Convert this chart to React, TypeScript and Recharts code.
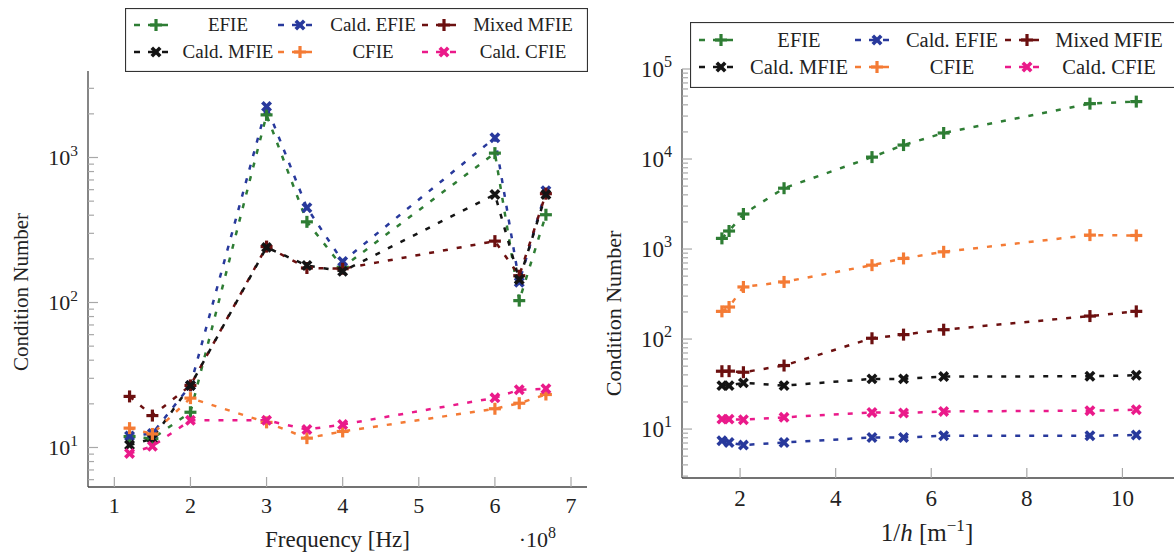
import React from 'react'
import { LineChart, Line, XAxis, YAxis } from 'recharts'

// left panel: condition number vs frequency (x in units of 1e8 Hz)
const freq = [1.2, 1.5, 2, 3, 3.53, 4, 6, 6.32, 6.67]
const efieF = [11.9, 11.5, 17.5, 1968, 360, 175, 1072, 103, 403]
const caldEfieF = [12.0, 12.5, 26.8, 2249, 450, 192, 1368, 138, 591]
const mixedMfieF = [22.5, 16.6, 26.8, 243, 173, 171, 265, 153, 563]
const caldMfieF = [10.4, 11.5, 26.8, 240, 180, 164, 556, 144, 556]
const cfieF = [13.6, 12.4, 21.9, 14.9, 11.6, 12.9, 18.5, 20.2, 23.2]
const caldCfieF = [9.1, 10.2, 15.4, 15.4, 13.3, 14.4, 22.0, 25.0, 25.4]

// right panel: condition number vs 1/h
const invH = [1.62, 1.77, 2.07, 2.92, 4.76, 5.42, 6.26, 9.32, 10.29]
const efieH = [1313, 1585, 2449, 4740, 10500, 14290, 19450, 41230, 43430]
const caldEfieH = [7.41, 7.1, 6.64, 7.1, 8.06, 8.06, 8.42, 8.42, 8.58]
const mixedMfieH = [43.9, 44, 42.8, 50.8, 102, 112, 127, 180, 203]
const caldMfieH = [30.4, 30.4, 32.6, 30.4, 36.1, 36.1, 38.3, 38.6, 39.6]
const cfieH = [203, 227, 379, 431, 662, 786, 931, 1428, 1415]
const caldCfieH = [12.9, 12.9, 12.7, 13.5, 15.3, 15.1, 15.7, 16.0, 16.4]

const freqTicks = [1, 2, 3, 4, 5, 6, 7]
const invHTicks = [2, 4, 6, 8, 10]
const leftMajors = [10, 100, 1000]
const rightMajors = [10, 100, 1000, 10000, 100000]

const FONT = "'Liberation Serif', 'DejaVu Serif', Tinos, Times, serif"
const TICK = '#a8a8a8'
const AXIS = '#444'
const TXT = { fontFamily: FONT }

type Mk = 'plus' | 'cross'
const series: { key: string; name: string; color: string; mark: Mk }[] = [
  { key: 'efie', name: 'EFIE', color: '#2e7d34', mark: 'plus' },
  { key: 'caldEfie', name: 'Cald. EFIE', color: '#28399c', mark: 'cross' },
  { key: 'mixedMfie', name: 'Mixed MFIE', color: '#6c1010', mark: 'plus' },
  { key: 'caldMfie', name: 'Cald. MFIE', color: '#141414', mark: 'cross' },
  { key: 'cfie', name: 'CFIE', color: '#f47b35', mark: 'plus' },
  { key: 'caldCfie', name: 'Cald. CFIE', color: '#ea1a8a', mark: 'cross' },
]

const freqRows = freq.map((x, i) => ({
  x,
  efie: efieF[i],
  caldEfie: caldEfieF[i],
  mixedMfie: mixedMfieF[i],
  caldMfie: caldMfieF[i],
  cfie: cfieF[i],
  caldCfie: caldCfieF[i],
}))

const invHRows = invH.map((x, i) => ({
  x,
  efie: efieH[i],
  caldEfie: caldEfieH[i],
  mixedMfie: mixedMfieH[i],
  caldMfie: caldMfieH[i],
  cfie: cfieH[i],
  caldCfie: caldCfieH[i],
}))

// minor log ticks (2..9 x 10^k) between the majors, clipped to the domain
function withMinors(majors: number[], lo: number, hi: number) {
  const out: number[] = []
  const first = majors[0] / 10
  for (const base of [first, ...majors]) {
    for (let m = 1; m < 10; m++) {
      const v = m * base
      if (v >= lo && v <= hi) out.push(v)
    }
  }
  return out
}

const isMajor = (v: number) => Math.abs(Math.log10(v) - Math.round(Math.log10(v))) < 1e-6

function Mark({ cx, cy, color, mark }: { cx: number; cy: number; color: string; mark: Mk }) {
  if (mark === 'plus') {
    const r = 6
    return (
      <g>
        <line x1={cx - r} x2={cx + r} y1={cy} y2={cy} stroke={color} strokeWidth={3.2} />
        <line x1={cx} x2={cx} y1={cy - r} y2={cy + r} stroke={color} strokeWidth={3.2} />
      </g>
    )
  }
  const r = 4.2
  return (
    <g>
      <line x1={cx - r} y1={cy - r} x2={cx + r} y2={cy + r} stroke={color} strokeWidth={3.6} />
      <line x1={cx - r} y1={cy + r} x2={cx + r} y2={cy - r} stroke={color} strokeWidth={3.6} />
    </g>
  )
}

const dotFor = (color: string, mark: Mk) => (p: any) => {
  const { cx, cy, index } = p
  if (cx == null || cy == null) return <g key={index} />
  return (
    <g key={index}>
      <Mark cx={cx} cy={cy} color={color} mark={mark} />
    </g>
  )
}

const Pow = ({ x, y, exp, fs, anchor }: { x: number; y: number; exp: number | string; fs: number; anchor: string }) => (
  <text x={x} y={y} textAnchor={anchor as any} style={TXT} fontSize={fs} fill="#222">
    10
    <tspan dy={-fs * 0.42} fontSize={fs * 0.7}>
      {exp}
    </tspan>
  </text>
)

const yTickLeft = (fs: number) => (p: any) => {
  const { x, y, payload } = p
  const v = payload.value
  const maj = isMajor(v)
  return (
    <g>
      <line x1={x} x2={x + (maj ? 10 : 6)} y1={y} y2={y} stroke={TICK} strokeWidth={1.2} />
      {maj && <Pow x={x - 10} y={y + fs * 0.33} exp={Math.round(Math.log10(v))} fs={fs} anchor="end" />}
    </g>
  )
}

const yTickRight = (p: any) => {
  const { x, y, payload } = p
  const maj = isMajor(payload.value)
  return <line x1={x} x2={x - (maj ? 10 : 6)} y1={y} y2={y} stroke={TICK} strokeWidth={1.2} />
}

const xTickBottom = (fs: number, dy: number) => (p: any) => {
  const { x, y, payload } = p
  return (
    <g>
      <line x1={x} x2={x} y1={y} y2={y - 10} stroke={TICK} strokeWidth={1.2} />
      <text x={x} y={y + dy} textAnchor="middle" style={TXT} fontSize={fs} fill="#222">
        {payload.value}
      </text>
    </g>
  )
}

const xTickTop = (p: any) => {
  const { x, y } = p
  return <line x1={x} x2={x} y1={y} y2={y + 10} stroke={TICK} strokeWidth={1.2} />
}

function LegendBox(props: {
  left: number
  top: number
  width: number
  height: number
  fs: number
  markX: number[]
  textX: number[]
  rowY: number[]
}) {
  const { left, top, width, height, fs, markX, textX, rowY } = props
  return (
    <svg style={{ position: 'absolute', left, top }} width={width + 1} height={height + 1}>
      <rect x={0.5} y={0.5} width={width} height={height} fill="#fff" stroke="#333" strokeWidth={1.2} />
      {series.map((s, i) => {
        const col = i % 3
        const row = Math.floor(i / 3)
        const mx = markX[col]
        const my = rowY[row]
        return (
          <g key={s.key}>
            <line x1={mx - 22} x2={mx + 20} y1={my} y2={my} stroke={s.color} strokeWidth={2.5} strokeDasharray="6 8" />
            <Mark cx={mx} cy={my} color={s.color} mark={s.mark} />
            <text x={textX[col]} y={my + fs * 0.33} textAnchor="middle" style={TXT} fontSize={fs} fill="#222">
              {s.name}
            </text>
          </g>
        )
      })}
    </svg>
  )
}

function FreqChart() {
  const yDomain = [5.34, 3950]
  const yTicks = withMinors(leftMajors, yDomain[0], yDomain[1])
  return (
    <LineChart width={600} height={556} data={freqRows} margin={{ top: 71, right: 13, bottom: 0, left: 28 }}>
      <XAxis
        xAxisId="b"
        dataKey="x"
        type="number"
        domain={[0.654, 7.21]}
        allowDataOverflow
        ticks={freqTicks}
        interval={0}
        height={69}
        tickSize={0}
        tickMargin={0}
        tickLine={false}
        axisLine={{ stroke: AXIS, strokeWidth: 1.3 }}
        tick={xTickBottom(22, 26)}
        label={(p: any) => {
          const vb = p.viewBox
          const cx = vb.x + vb.width / 2
          return (
            <g>
              <text x={cx} y={vb.y + 60} textAnchor="middle" style={TXT} fontSize={23} fill="#222">
                Frequency [Hz]
              </text>
              <text x={vb.x + vb.width - 31} y={vb.y + 60} textAnchor="end" style={TXT} fontSize={22} fill="#222">
                ·10
                <tspan dy={-9} fontSize={16}>
                  8
                </tspan>
              </text>
            </g>
          )
        }}
      />
      <XAxis
        xAxisId="t"
        orientation="top"
        type="number"
        domain={[0.654, 7.21]}
        allowDataOverflow
        ticks={freqTicks}
        interval={0}
        height={0}
        tickSize={0}
        tickMargin={0}
        tickLine={false}
        axisLine={{ stroke: AXIS, strokeWidth: 1.3 }}
        tick={xTickTop}
      />
      <YAxis
        yAxisId="l"
        type="number"
        scale="log"
        domain={yDomain}
        allowDataOverflow
        ticks={yTicks}
        interval={0}
        width={60}
        tickSize={0}
        tickMargin={0}
        tickLine={false}
        axisLine={{ stroke: AXIS, strokeWidth: 1.3 }}
        tick={yTickLeft(22)}
        label={(p: any) => {
          const vb = p.viewBox
          const cx = vb.x - 7
          const cy = vb.y + vb.height / 2 + 13
          return (
            <text
              x={cx}
              y={cy}
              transform={`rotate(-90 ${cx} ${cy})`}
              textAnchor="middle"
              dominantBaseline="central"
              style={TXT}
              fontSize={21}
              fill="#222"
            >
              Condition Number
            </text>
          )
        }}
      />
      <YAxis
        yAxisId="r"
        orientation="right"
        type="number"
        scale="log"
        domain={yDomain}
        allowDataOverflow
        ticks={yTicks}
        interval={0}
        width={0}
        tickSize={0}
        tickMargin={0}
        tickLine={false}
        axisLine={{ stroke: AXIS, strokeWidth: 1.3 }}
        tick={yTickRight}
      />
      {series.map((s) => (
        <Line
          key={s.key}
          xAxisId="b"
          yAxisId="l"
          type="linear"
          dataKey={s.key}
          name={s.name}
          stroke={s.color}
          strokeWidth={2.5}
          strokeDasharray="5 9"
          dot={dotFor(s.color, s.mark)}
          activeDot={false}
          isAnimationActive={false}
        />
      ))}
    </LineChart>
  )
}

function InvHChart() {
  const yDomain = [2.86, 100000]
  const yTicks = withMinors(rightMajors, yDomain[0], yDomain[1])
  return (
    <LineChart width={580} height={556} data={invHRows} margin={{ top: 69, right: 1, bottom: 0, left: 36 }}>
      <XAxis
        xAxisId="b"
        dataKey="x"
        type="number"
        domain={[0.785, 11.1]}
        allowDataOverflow
        ticks={invHTicks}
        interval={0}
        height={78}
        tickSize={0}
        tickMargin={0}
        tickLine={false}
        axisLine={{ stroke: AXIS, strokeWidth: 1.3 }}
        tick={xTickBottom(23, 28)}
        label={(p: any) => {
          const vb = p.viewBox
          const cx = 927 - 596
          const y = vb.y + 63
          return (
            <text x={cx} y={y} textAnchor="middle" style={TXT} fontSize={25} fill="#222">
              1/<tspan fontStyle="italic">h</tspan>
              {'  [m'}
              <tspan dy={-10} fontSize={17}>
                −1
              </tspan>
              <tspan dy={10}>]</tspan>
            </text>
          )
        }}
      />
      <XAxis
        xAxisId="t"
        orientation="top"
        type="number"
        domain={[0.785, 11.1]}
        allowDataOverflow
        ticks={invHTicks}
        interval={0}
        height={0}
        tickSize={0}
        tickMargin={0}
        tickLine={false}
        axisLine={{ stroke: AXIS, strokeWidth: 1.3 }}
        tick={xTickTop}
      />
      <YAxis
        yAxisId="l"
        type="number"
        scale="log"
        domain={yDomain}
        allowDataOverflow
        ticks={yTicks}
        interval={0}
        width={50}
        tickSize={0}
        tickMargin={0}
        tickLine={false}
        axisLine={{ stroke: AXIS, strokeWidth: 1.3 }}
        tick={yTickLeft(23)}
        label={(p: any) => {
          const vb = p.viewBox
          const cx = vb.x - 19
          const cy = vb.y + vb.height / 2 + 40
          return (
            <text
              x={cx}
              y={cy}
              transform={`rotate(-90 ${cx} ${cy})`}
              textAnchor="middle"
              dominantBaseline="central"
              style={TXT}
              fontSize={22}
              fill="#222"
            >
              Condition Number
            </text>
          )
        }}
      />
      <YAxis
        yAxisId="r"
        orientation="right"
        type="number"
        scale="log"
        domain={yDomain}
        allowDataOverflow
        ticks={yTicks}
        interval={0}
        width={0}
        tickSize={0}
        tickMargin={0}
        tickLine={false}
        axisLine={{ stroke: AXIS, strokeWidth: 1.3 }}
        tick={yTickRight}
      />
      {series.map((s) => (
        <Line
          key={s.key}
          xAxisId="b"
          yAxisId="l"
          type="linear"
          dataKey={s.key}
          name={s.name}
          stroke={s.color}
          strokeWidth={2.5}
          strokeDasharray="5 9"
          dot={dotFor(s.color, s.mark)}
          activeDot={false}
          isAnimationActive={false}
        />
      ))}
    </LineChart>
  )
}

export default function App() {
  return (
    <div
      style={{
        position: 'absolute',
        left: 0,
        top: 0,
        width: 1174,
        height: 556,
        overflow: 'hidden',
        background: '#fff',
        fontFamily: FONT,
      }}
    >
      <div style={{ position: 'absolute', left: 0, top: 0 }}>
        <FreqChart />
      </div>
      <div style={{ position: 'absolute', left: 596, top: 0 }}>
        <InvHChart />
      </div>
      <LegendBox
        left={125}
        top={8}
        width={462}
        height={63}
        fs={19}
        markX={[31, 175, 319]}
        textX={[103, 248, 398]}
        rowY={[17, 44]}
      />
      <LegendBox
        left={690}
        top={22}
        width={520}
        height={65}
        fs={20.5}
        markX={[31, 187, 337]}
        textX={[109, 262, 419]}
        rowY={[18, 45]}
      />
    </div>
  )
}
